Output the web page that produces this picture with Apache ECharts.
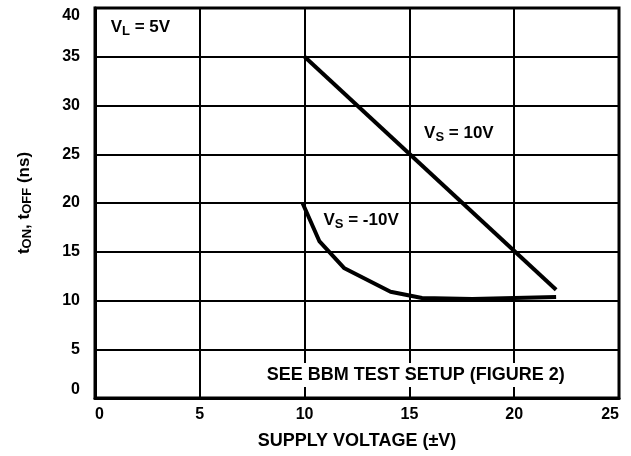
<!DOCTYPE html>
<html>
<head>
<meta charset="utf-8">
<script src="https://cdn.jsdelivr.net/npm/echarts@6/dist/echarts.min.js"></script>
<style>
  html, body { margin: 0; padding: 0; background: #fff; }
  #chart { width: 631px; height: 456px; }
</style>
</head>
<body>
<div id="chart"></div>
<script>
// Vs = 10V line
var vs10 = [[10, 35], [22, 11.1]]
// Vs = -10V curve
var vsNeg10 = [[9.9, 20], [10.7, 16.1], [11.9, 13.3], [14.1, 10.9], [15.6, 10.25], [18, 10.15], [22, 10.35]]
var xTicks = [0, 5, 10, 15, 20, 25]
var yTicks = [0, 5, 10, 15, 20, 25, 30, 35, 40]

var font = 'Liberation Sans, Arial, sans-serif'
var chart = echarts.init(document.getElementById('chart'))

chart.setOption({
  backgroundColor: '#fff',
  animation: false,
  grid: {
    left: 95,
    top: 8,
    width: 524,
    height: 390,
    show: true,
    borderColor: '#000',
    borderWidth: 3,
    backgroundColor: 'transparent'
  },
  xAxis: {
    type: 'value',
    min: xTicks[0],
    max: xTicks[xTicks.length - 1],
    interval: 5,
    name: 'SUPPLY VOLTAGE (±V)',
    nameLocation: 'middle',
    nameGap: 34,
    nameTextStyle: { fontFamily: font, fontWeight: 'bold', fontSize: 18, color: '#000' },
    axisLine: { lineStyle: { color: '#000', width: 3 } },
    axisTick: { show: false },
    axisLabel: {
      fontFamily: font, fontWeight: 'bold', fontSize: 16, color: '#000', margin: 9,
      alignMinLabel: 'left', alignMaxLabel: 'right'
    },
    splitLine: { lineStyle: { color: '#000', width: 2 } }
  },
  yAxis: {
    type: 'value',
    min: yTicks[0],
    max: yTicks[yTicks.length - 1],
    interval: 5,
    name: 't{sub|ON}, t{sub|OFF} (ns)',
    nameLocation: 'middle',
    nameGap: 61,
    nameRotate: 90,
    nameTextStyle: {
      fontFamily: font, fontWeight: 'bold', fontSize: 17, color: '#000',
      rich: { sub: { fontFamily: font, fontWeight: 'bold', fontSize: 13, color: '#000', padding: [7, 0, 0, 0] } }
    },
    axisLine: { lineStyle: { color: '#000', width: 3 } },
    axisTick: { show: false },
    axisLabel: {
      fontFamily: font, fontWeight: 'bold', fontSize: 16, color: '#000', margin: 15,
      verticalAlignMinLabel: 'bottom', verticalAlignMaxLabel: 'top'
    },
    splitLine: { lineStyle: { color: '#000', width: 2 } }
  },
  series: [
    {
      name: 'VS = 10V',
      type: 'line',
      data: vs10,
      symbol: 'none',
      lineStyle: { color: '#000', width: 4 }
    },
    {
      name: 'VS = -10V',
      type: 'line',
      data: vsNeg10,
      symbol: 'none',
      lineStyle: { color: '#000', width: 4 }
    }
  ]
})

// annotations placed at data coordinates
function px(pt) {
  return chart.convertToPixel({ gridIndex: 0 }, pt)
}
function label(pt, main, sub, rest) {
  var p = px(pt)
  return {
    type: 'text',
    x: p[0],
    y: p[1],
    z: 100,
    style: {
      text: main + '{s|' + sub + '}' + rest,
      fontFamily: font,
      fontWeight: 'bold',
      fontSize: 17,
      fill: '#000',
      rich: { s: { fontFamily: font, fontWeight: 'bold', fontSize: 13, fill: '#000', padding: [8, 0, 0, 0] } }
    }
  }
}
var noteC = px([15.3, 2.35])
chart.setOption({
  graphic: [
    label([0.75, 39.1], 'V', 'L', ' = 5V'),
    label([15.7, 28.2], 'V', 'S', ' = 10V'),
    label([10.9, 19.3], 'V', 'S', ' = -10V'),
    {
      type: 'text',
      z: 100,
      x: noteC[0],
      y: noteC[1],
      style: {
        text: 'SEE BBM TEST SETUP (FIGURE 2)',
        fontFamily: font,
        fontWeight: 'bold',
        fontSize: 18,
        fill: '#000',
        align: 'center',
        verticalAlign: 'middle',
        backgroundColor: '#fff',
        padding: [3, 6, 3, 6]
      }
    }
  ]
})
</script>
</body>
</html>
